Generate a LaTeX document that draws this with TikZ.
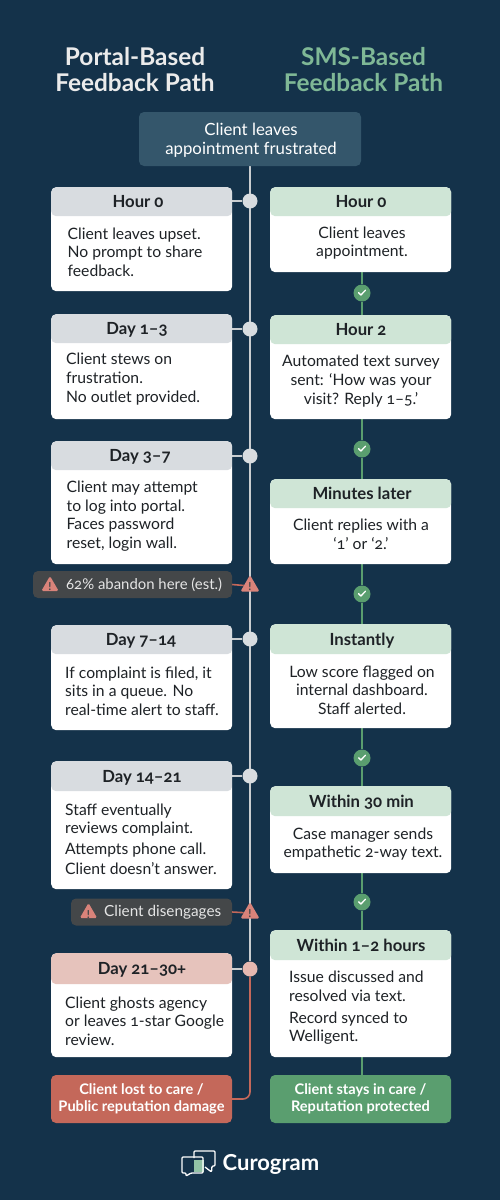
\documentclass[tikz,border=0pt]{standalone}
\usepackage{fontspec}
\setmainfont{Lato}[Numbers=OldStyle]
\usetikzlibrary{shapes.geometric,backgrounds,calc}
\definecolor{bgc}{HTML}{14324A}
\definecolor{topc}{HTML}{34566B}
\definecolor{hgray}{HTML}{D8DCE0}
\definecolor{hgreen}{HTML}{CFE5D6}
\definecolor{hred}{HTML}{E6C3BC}
\definecolor{redc}{HTML}{C4685A}
\definecolor{greenc}{HTML}{5A9E6F}
\definecolor{pillc}{HTML}{444749}
\definecolor{warnc}{HTML}{D9837A}
\definecolor{linec}{HTML}{C9CDD0}
\definecolor{titleg}{HTML}{7FB896}
\definecolor{ink}{HTML}{1E2226}
\definecolor{dotred}{HTML}{E6B8B0}
\tikzset{
  cardbox/.style={fill=white,rounded corners=5pt,inner sep=0pt},
  headtext/.style={font=\fontsize{16.7}{19}\selectfont\bfseries,text=ink,inner sep=0pt,text height=12pt,text depth=0pt},
  bodytext/.style={font=\fontsize{15.7}{18.7}\selectfont,text=ink,inner sep=0pt},
  titletext/.style={font=\fontsize{24.4}{26}\selectfont\bfseries,align=center,inner sep=0pt},
  outbox/.style={rounded corners=5pt,minimum width=181pt,minimum height=48pt,inner sep=0pt,align=center,text=white,font=\fontsize{14.6}{16.5}\selectfont\bfseries},
  pillbox/.style={fill=pillc,rounded corners=5pt,inner sep=0pt},
  pilltext/.style={text=white!90!black,inner sep=0pt,anchor=west},
  spinedot/.style={circle,minimum size=15pt,inner sep=0pt},
  checkdot/.style={circle,fill=greenc,minimum size=17pt,inner sep=0pt,
    path picture={\draw[white,line width=1.3pt,line cap=round,line join=round]
      ($(path picture bounding box.center)+(-3.4pt,0.3pt)$) -- ++(2.3pt,-2.3pt) -- ++(4.6pt,4.8pt);}},
  warntri/.style={regular polygon,regular polygon sides=3,fill=warnc,minimum size=22pt,inner sep=0pt,rounded corners=1.5pt},
  bang/.style={text=pillc,inner sep=0pt,font=\fontsize{11}{11}\selectfont\bfseries},
  greenline/.style={draw=greenc,line width=1.8pt},
  grayline/.style={draw=linec,line width=1.6pt},
  redline/.style={draw=redc,line width=1.6pt}
}
% name, left x, top y, header bottom y, bottom y, header colour, header cx, heading
\newcommand{\mycard}[8]{%
  \pgfmathsetmacro{\cw}{181}%
  \pgfmathsetmacro{\ch}{#5-#3}%
  \pgfmathsetmacro{\hh}{#4-#3}%
  \node[cardbox,minimum width=\cw pt,minimum height=\ch pt,anchor=north west,
    path picture={\fill[#6] (path picture bounding box.north west) rectangle ++(181pt,-\hh pt);}] (#1) at (#2,#3) {};%
  \node[inner sep=0pt,minimum width=\cw pt,minimum height=\hh pt,anchor=north west] (#1h) at (#2,#3) {};%
  \node[headtext] (#1t) at (#7,{(#3+#4)/2}) {#8};%
}
\begin{document}
\begin{tikzpicture}[x=1pt,y=-1pt]
\useasboundingbox (0,0) rectangle (500,1200);
\begin{scope}[on background layer]
\fill[bgc] (0,0) rectangle (500,1200);
\end{scope}

\node[titletext,text=white!92!black] (titleL) at (135,70) {Portal-Based\\Feedback Path};
\node[titletext,text=titleg] (titleR) at (363.5,70) {SMS-Based\\Feedback Path};

\node[fill=topc,rounded corners=5pt,minimum width=222pt,minimum height=54pt,inner sep=0pt] (top) at (250,139) {};
\node[align=center,text=white,inner sep=0pt,font=\fontsize{16.8}{18.7}\selectfont] (topt) at (251,140) {Client leaves\\appointment frustrated};

% left cards
\mycard{L1}{51}{187}{216}{291}{hgray}{138}{Hour 0}
\node[bodytext,align=left,anchor=west] (L1b) at (67.5,252) {Client leaves upset.\\No prompt to share\\feedback.};
\mycard{L2}{51}{314}{343}{419}{hgray}{137}{Day 1–3}
\node[bodytext,align=left,anchor=west] (L2b) at (66,379) {Client stews on\\frustration.\\No outlet provided.};
\mycard{L3}{51}{441}{470}{564}{hgray}{140}{Day 3–7}
\node[bodytext,align=left,anchor=west] (L3b) at (66.5,516) {Client may attempt\\to log into portal.\\Faces password\\reset, login wall.};
\mycard{L4}{51}{625}{654}{730}{hgray}{141}{Day 7–14}
\node[bodytext,align=left,anchor=west] (L4b) at (65,691) {If complaint is filed, it\\sits in a queue. No\\real-time alert to staff.};
\mycard{L5}{51}{761}{791}{889}{hgray}{142}{Day 14–21}
\node[bodytext,align=left,anchor=west] (L5b) at (65,839) {Staff eventually\\reviews complaint.\\[1.6pt]Attempts phone call.\\[1.6pt]Client doesn’t answer.};
\mycard{L6}{51}{953}{984}{1057}{hred}{142}{Day 21–30+}
\node[bodytext,align=left,anchor=west] (L6b) at (65,1021) {Client ghosts agency\\or leaves 1-star Google\\review.};

% right cards
\mycard{R1}{270}{187}{216}{272}{hgreen}{361}{Hour 0}
\node[bodytext,align=center] (R1b) at (362,243) {Client leaves\\appointment.};
\mycard{R2}{270}{315}{344}{419}{hgreen}{361}{Hour 2}
\node[bodytext,align=center] (R2b) at (361,381) {Automated text survey\\sent: ‘How was your\\visit? Reply 1–5.’};
\mycard{R3}{270}{479}{508}{564}{hgreen}{362}{Minutes later}
\node[bodytext,align=center] (R3b) at (361,534) {Client replies with a\\‘1’ or ‘2.’};
\mycard{R4}{270}{624}{654}{728}{hgreen}{362}{Instantly}
\node[bodytext,align=center] (R4b) at (362,690) {Low score flagged on\\internal dashboard.\\Staff alerted.};
\mycard{R5}{270}{786}{816}{873}{hgreen}{361.5}{Within 30 min}
\node[bodytext,align=center] (R5b) at (363,844) {Case manager sends\\empathetic 2-way text.};
\mycard{R6}{270}{930}{960}{1057}{hgreen}{361}{Within 1–2 hours}
\node[bodytext,align=left,anchor=west] (R6b) at (289,1008) {Issue discussed and\\resolved via text.\\[3pt]Record synced to\\Welligent.};

% outcomes
\node[outbox,fill=redc] (outL) at (141.5,1099) {Client lost to care /\\Public reputation damage};
\node[outbox,fill=greenc] (outR) at (360.5,1099) {Client stays in care /\\Reputation protected};

% spine dots
\node[spinedot,fill=hgray] (d1) at (250,201) {};
\node[spinedot,fill=hgray] (d2) at (250,329) {};
\node[spinedot,fill=hgray] (d3) at (250,456) {};
\node[spinedot,fill=hgray] (d4) at (250,639) {};
\node[spinedot,fill=hgray] (d5) at (250,776) {};
\node[spinedot,fill=dotred] (d6) at (250,969) {};

% checks
\node[checkdot] (c1) at (362,293) {};
\node[checkdot] (c2) at (362,449) {};
\node[checkdot] (c3) at (362,594) {};
\node[checkdot] (c4) at (362,758) {};
\node[checkdot] (c5) at (362,902) {};

% warnings
\node[pillbox,minimum width=199pt,minimum height=27pt] (pA) at (132.5,584.5) {};
\node[warntri,minimum size=20pt] (pAi) at (50,586) {};
\node[bang] (pAb) at (50,587) {!};
\node[pilltext,font=\fontsize{14.9}{18}\selectfont] (pAt) at (66,584.5) {62\% abandon here (est.)};
\node[warntri] (wA) at (250,586) {};
\node[bang] (wAb) at (250,587) {!};

\node[pillbox,minimum width=161pt,minimum height=27pt] (pB) at (151.5,912) {};
\node[warntri,minimum size=20pt] (pBi) at (88.5,913) {};
\node[bang] (pBb) at (88.5,914.5) {!};
\node[pilltext,font=\fontsize{15.3}{18}\selectfont] (pBt) at (104,912) {Client disengages};
\node[warntri] (wB) at (250,913) {};
\node[bang] (wBb) at (250,914) {!};

% logo
\begin{scope}[line join=round,line width=1.3pt,draw=white]
\fill[titleg!85!white] (194,1160) rectangle (204,1172);
\draw (194,1158) -- (194,1153) [rounded corners=1pt] -- (194,1151) -- (215,1151) -- (215,1166) -- (212,1166) -- (211.5,1172) -- (205,1167);
\draw[rounded corners=1pt] (203,1157) -- (182,1157) -- (182,1173) -- (186,1173) -- (186,1176) -- (191,1173) -- (203,1173) -- cycle;
\end{scope}
\node[inner sep=0pt,anchor=west,text=white,font=\fontsize{22}{26}\selectfont\bfseries] (logo) at (222.5,1164.5) {Curogram};

% connectors
\begin{scope}[on background layer]
\draw[grayline] (top.south) -- (d6);
\foreach \i in {1,...,6} {\draw[grayline] (L\i h.east |- d\i) -- (d\i);}
\draw[redline,rounded corners=7pt] (d6) -- (d6 |- outL.east) -- (outL.east);
\draw[redline] (pA.east) -- (wA);
\draw[redline] (pB.east) -- (wB);
\draw[greenline] (c1 |- R1.south) -- (c1);
\draw[greenline] (c1) -- (c1 |- R2.north);
\draw[greenline] (c2 |- R2.south) -- (c2);
\draw[greenline] (c2) -- (c2 |- R3.north);
\draw[greenline] (c3 |- R3.south) -- (c3);
\draw[greenline] (c3) -- (c3 |- R4.north);
\draw[greenline] (c4 |- R4.south) -- (c4);
\draw[greenline] (c4) -- (c4 |- R5.north);
\draw[greenline] (c5 |- R5.south) -- (c5);
\draw[greenline] (c5) -- (c5 |- R6.north);
\draw[greenline] (c5 |- R6.south) -- (c5 |- outR.north);
\end{scope}
\end{tikzpicture}
\end{document}
